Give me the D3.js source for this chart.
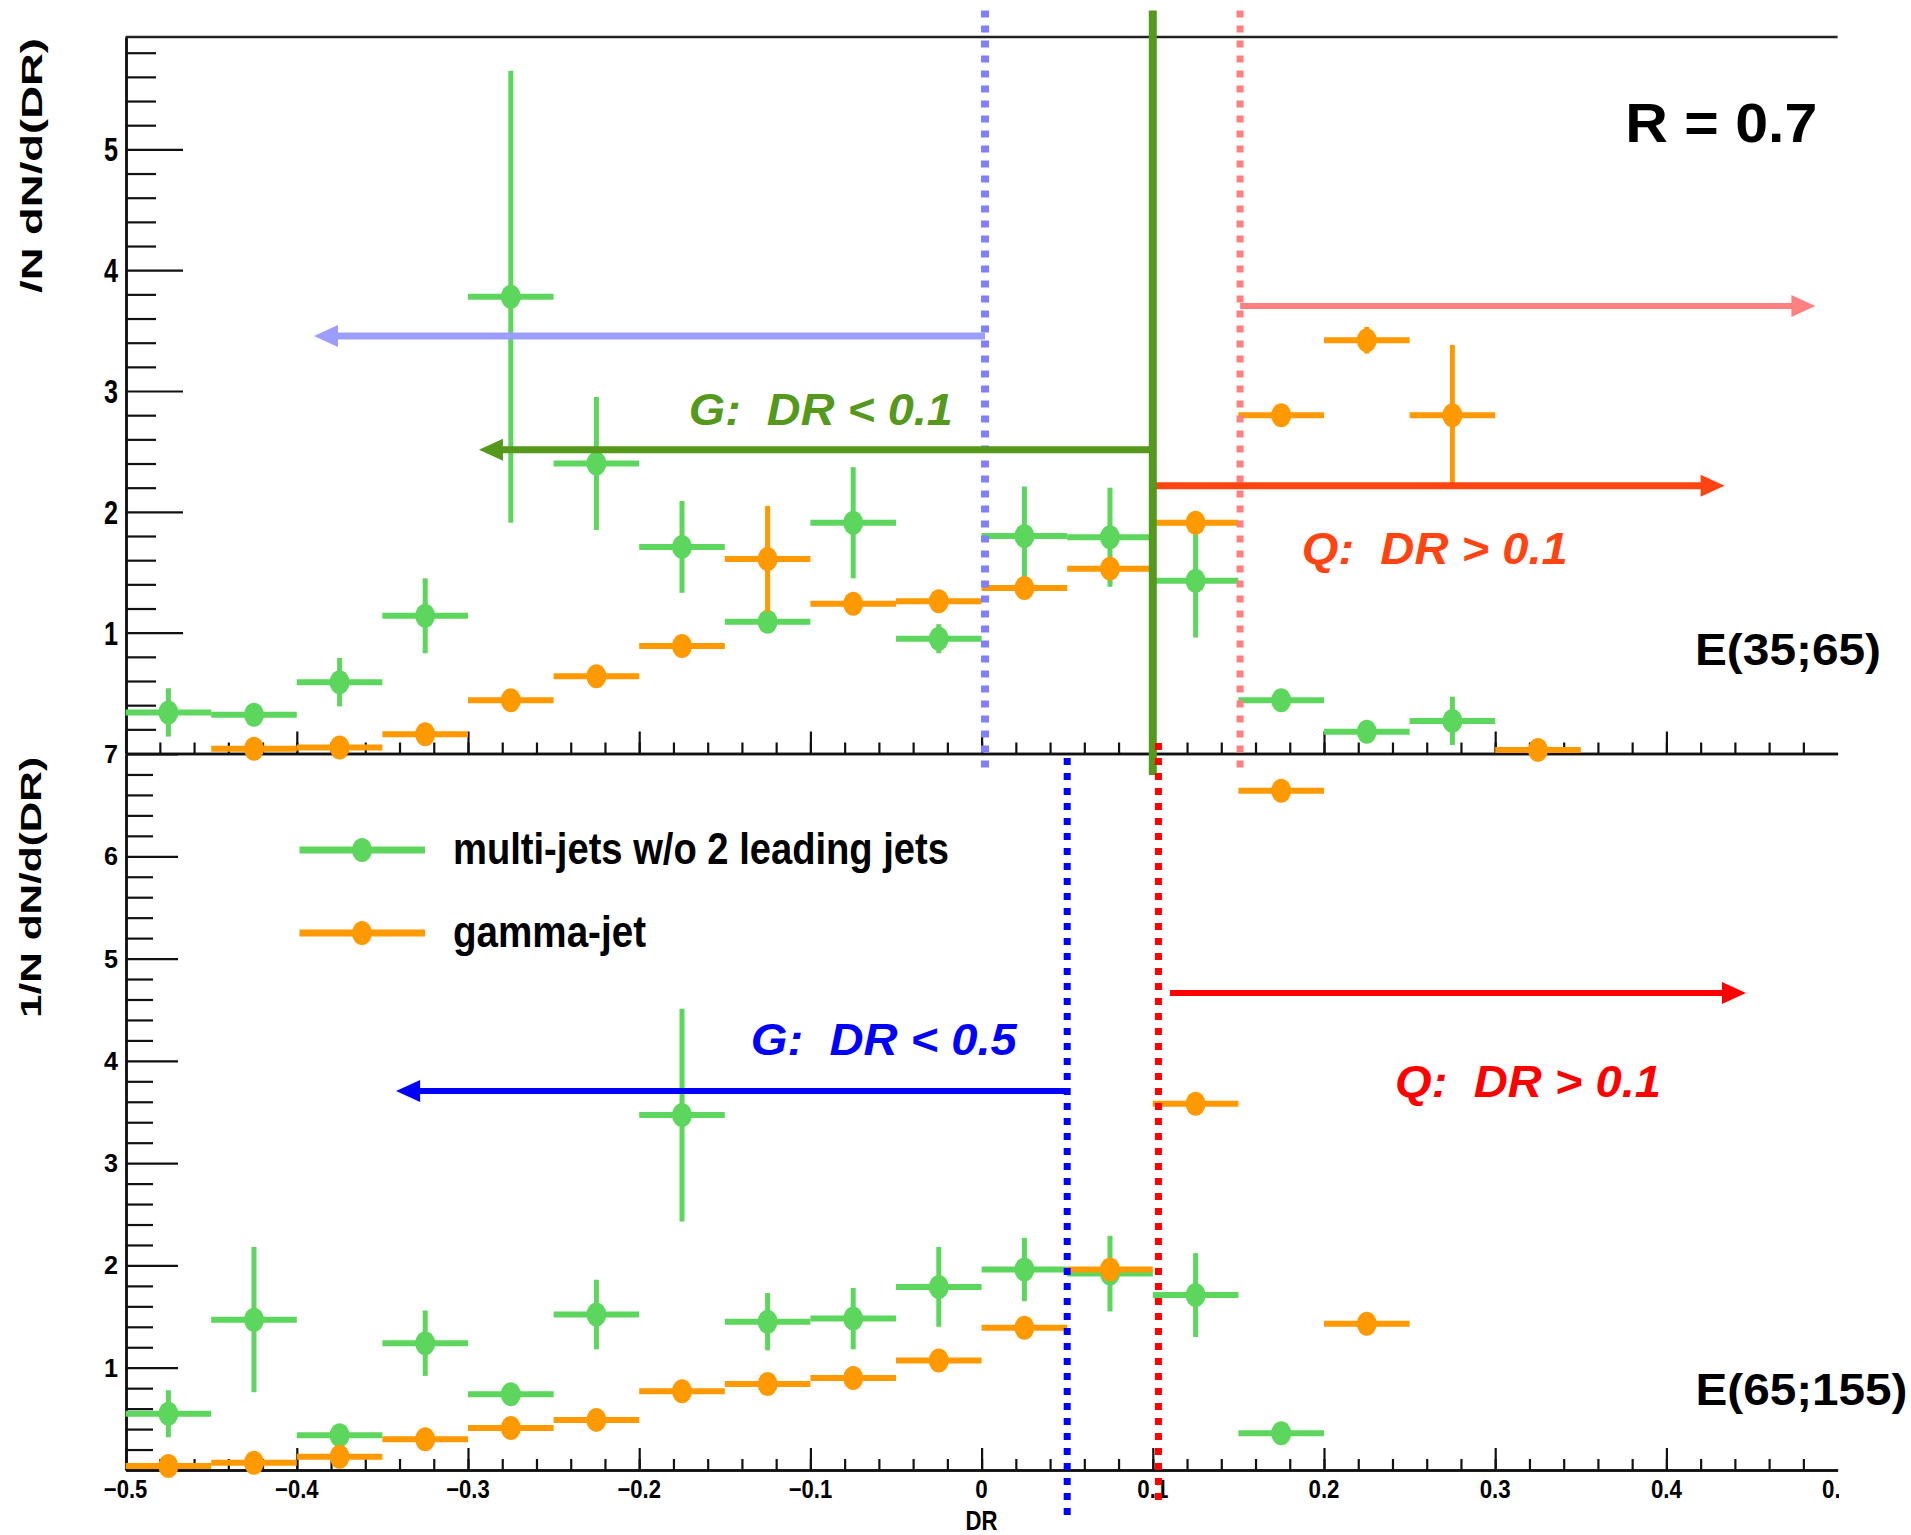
<!DOCTYPE html>
<html>
<head>
<meta charset="utf-8">
<script src="https://cdn.jsdelivr.net/npm/d3@7/dist/d3.min.js"></script>
<style>
  body { margin: 0; background: #fff; }
  text { font-family: "Liberation Sans", Arial, sans-serif; font-weight: bold; }
</style>
</head>
<body>
<svg id="chart"></svg>
<script>
// bin centres of the DR histograms (bin width 0.05)
var binCenters = [-0.475, -0.425, -0.375, -0.325, -0.275, -0.225, -0.175, -0.125, -0.075, -0.025,
                   0.025,  0.075,  0.125,  0.175,  0.225,  0.275,  0.325,  0.375,  0.425,  0.475];
var binWidth = 0.05;

// E(35;65) panel
var topMulti    = [0.34, 0.32, 0.59, 1.14, 3.78, 2.40, 1.71, 1.09, 1.91, 0.95, 1.80, 1.79, 1.43, 0.44, 0.18, 0.27, null, null, null, null];
var topMultiErr = [0.20, 0.06, 0.20, 0.31, 1.87, 0.55, 0.38, 0.08, 0.46, 0.12, 0.41, 0.41, 0.47, 0.06, 0.07, 0.20, null, null, null, null];
var topGamma    = [null, 0.04, 0.05, 0.16, 0.44, 0.64, 0.89, 1.61, 1.24, 1.26, 1.37, 1.53, 1.91, 2.80, 3.42, 2.80, 0.03, null, null, null];
var topGammaErr = [null, 0.02, 0.03, 0.04, 0.05, 0.05, 0.06, 0.44, 0.06, 0.07, 0.07, 0.08, 0.08, 0.09, 0.11, 0.58, 0.02, null, null, null];

// E(65;155) panel
var botMulti    = [0.55, 1.47, 0.34, 1.24, 0.74, 1.52, 3.47, 1.45, 1.48, 1.79, 1.96, 1.92, 1.71, 0.36, null, null, null, null, null, null];
var botMultiErr = [0.23, 0.71, 0.06, 0.32, 0.07, 0.34, 1.04, 0.28, 0.30, 0.39, 0.31, 0.37, 0.41, 0.05, null, null, null, null, null, null];
var botGamma    = [0.04, 0.07, 0.13, 0.30, 0.41, 0.49, 0.77, 0.84, 0.90, 1.07, 1.39, 1.96, 3.58, 6.64, 1.43, null, null, null, null, null];
var botGammaErr = [0.03, 0.04, 0.06, 0.05, 0.06, 0.06, 0.06, 0.06, 0.06, 0.06, 0.07, 0.10, 0.09, 0.10, 0.08, null, null, null, null, null];

// tick labels
var xTickValues = [-0.5, -0.4, -0.3, -0.2, -0.1, 0, 0.1, 0.2, 0.3, 0.4, 0.5];
var topYLabels = [1, 2, 3, 4, 5];
var botYLabels = [1, 2, 3, 4, 5, 6, 7];

var seriesNames = ["multi-jets w/o 2 leading jets", "gamma-jet"];

var greenCol = "#5cd65c";
var orangeCol = "#ff9900";

var svg = d3.select("#chart")
  .attr("width", 1911)
  .attr("height", 1535);

var x = d3.scaleLinear().domain([-0.5, 0.5]).range([125.6, 1837.6]);
var yTop = d3.scaleLinear().domain([0, 5.93]).range([753.5, 37]);
var yBot = d3.scaleLinear().domain([0, 7]).range([1470, 754]);

function range(a, b, step) {
  var out = [];
  for (var v = a; v <= b + 1e-9; v += step) out.push(Math.round(v * 1000) / 1000);
  return out;
}

// ---- axes ----
function yAxes(scale, maxV, majSize, minSize) {
  var minors = range(0.2, maxV, 0.2).filter(function(v) { return Math.abs(v - Math.round(v)) > 1e-6; });
  var majors = range(1, maxV, 1);
  svg.append("g")
    .attr("transform", "translate(126,0)")
    .call(d3.axisRight(scale).tickValues(minors).tickSize(minSize).tickSizeOuter(0).tickFormat(""));
  svg.append("g")
    .attr("transform", "translate(126,0)")
    .call(d3.axisRight(scale).tickValues(majors).tickSize(majSize).tickSizeOuter(0).tickFormat(""));
}
yAxes(yTop, 5.93, 57, 30);
yAxes(yBot, 7, 52, 27);

function xAxes(yPos) {
  var minors = range(-0.5, 0.49, 0.02);
  svg.append("g")
    .attr("transform", "translate(0," + yPos + ")")
    .call(d3.axisTop(x).tickValues(minors).tickSize(11).tickSizeOuter(0).tickFormat(""));
  svg.append("g")
    .attr("transform", "translate(0," + yPos + ")")
    .call(d3.axisTop(x).tickValues(xTickValues.slice(0, -1)).tickSize(22).tickSizeOuter(0).tickFormat(""));
}
xAxes(yTop(0));
xAxes(yBot(0));

svg.selectAll(".domain").attr("stroke", "#111").attr("stroke-width", 2.5);
svg.selectAll(".tick line").attr("stroke", "#111").attr("stroke-width", 2.2);

// frame line on top of the upper pad
svg.append("line")
  .attr("x1", x(-0.5)).attr("x2", x(0.5))
  .attr("y1", yTop(5.93)).attr("y2", yTop(5.93))
  .attr("stroke", "#222").attr("stroke-width", 2.5);

// ---- labels ----
function label(txt, px, py, size, len, anchor, fill, italic) {
  var t = svg.append("text")
    .attr("x", px).attr("y", py)
    .attr("font-size", size)
    .attr("text-anchor", anchor || "start")
    .attr("fill", fill || "#000")
    .style("white-space", "pre")
    .text(txt);
  if (len) t.attr("textLength", len).attr("lengthAdjust", "spacingAndGlyphs");
  if (italic) t.attr("font-style", "italic");
  return t;
}

topYLabels.forEach(function(v) {
  label(String(v), 118, yTop(v) + 12, 33, 14, "end");
});
botYLabels.forEach(function(v) {
  label(String(v), 118, yBot(v) + 9, 25, 14, "end");
});

svg.append("clipPath").attr("id", "clipx")
  .append("rect").attr("x", 0).attr("y", 0).attr("width", 1839).attr("height", 1535);

xTickValues.forEach(function(v) {
  var s = v === 0 ? "0" : d3.format(".1f")(v);
  var w = s.length * 12.5 - (s.indexOf(".") >= 0 ? 6.5 : 0) - (s[0] === "-" ? 4.5 : 0);
  label(s, x(v), 1498, 25, w, "middle").attr("clip-path", "url(#clipx)");
});
label("DR", x(0), 1530, 28, 32, "middle");

// y titles
svg.append("text")
  .attr("transform", "translate(41.5,293) rotate(-90)")
  .attr("font-size", 30)
  .attr("textLength", 255).attr("lengthAdjust", "spacingAndGlyphs")
  .text("/N dN/d(DR)");
svg.append("text")
  .attr("transform", "translate(41,1018) rotate(-90)")
  .attr("font-size", 30)
  .attr("textLength", 261).attr("lengthAdjust", "spacingAndGlyphs")
  .text("1/N dN/d(DR)");

// ---- histogram points ----
function drawSeries(scale, vals, errs, color) {
  var g = svg.append("g");
  binCenters.forEach(function(c, i) {
    var v = vals[i];
    if (v === null) return;
    var e = errs[i] || 0;
    g.append("line")
      .attr("x1", x(c - binWidth / 2)).attr("x2", x(c + binWidth / 2))
      .attr("y1", scale(v)).attr("y2", scale(v))
      .attr("stroke", color).attr("stroke-width", 6);
    g.append("line")
      .attr("x1", x(c)).attr("x2", x(c))
      .attr("y1", scale(Math.max(0, v - e))).attr("y2", scale(v + e))
      .attr("stroke", color).attr("stroke-width", 5);
    g.append("ellipse")
      .attr("cx", x(c)).attr("cy", scale(v))
      .attr("rx", 10).attr("ry", 12)
      .attr("fill", color);
  });
}
drawSeries(yTop, topMulti, topMultiErr, greenCol);
drawSeries(yTop, topGamma, topGammaErr, orangeCol);
drawSeries(yBot, botMulti, botMultiErr, greenCol);
drawSeries(yBot, botGamma, botGammaErr, orangeCol);

// ---- annotations ----
function vline(scale, xv, v1, v2, color, w, dash) {
  var l = svg.append("line")
    .attr("x1", x(xv)).attr("x2", x(xv))
    .attr("y1", scale(v1)).attr("y2", scale(v2))
    .attr("stroke", color).attr("stroke-width", w);
  if (dash) l.attr("stroke-dasharray", dash);
}
function arrow(scale, x1v, x2v, yv, color, w) {
  var px1 = x(x1v), px2 = x(x2v), py = scale(yv);
  var dir = px2 > px1 ? 1 : -1;
  svg.append("line")
    .attr("x1", px1).attr("x2", px2 - dir * 22)
    .attr("y1", py).attr("y2", py)
    .attr("stroke", color).attr("stroke-width", w);
  svg.append("path")
    .attr("d", "M" + px2 + "," + py +
      "L" + (px2 - dir * 24) + "," + (py - 11) +
      "L" + (px2 - dir * 24) + "," + (py + 11) + "Z")
    .attr("fill", color);
}

// upper pad
vline(yTop, 0.002, 6.15, -0.145, "#8080ff", 8, "7,8");
arrow(yTop, 0.002, -0.39, 3.456, "#9d9dff", 7);
vline(yTop, 0.151, 6.15, -0.145, "#ff8080", 7, "7,8");
arrow(yTop, 0.151, 0.487, 3.704, "#ff8080", 6);
arrow(yTop, 0.1, -0.2936, 2.513, "#55991c", 7);
arrow(yTop, 0.1, 0.434, 2.215, "#ff4411", 7);
vline(yTop, 0.1, 6.15, -0.178, "#55991c", 8, null);

label("G:  DR < 0.1", x(-0.171), yTop(2.72), 45, 264, "start", "#55991c", true);
label("Q:  DR > 0.1", x(0.187), yTop(1.569), 45, 266, "start", "#ff4411", true);
label("R = 0.7", x(0.376), yTop(5.065), 56, 192, "start");
label("E(35;65)", x(0.4167), yTop(0.733), 45, 186, "start");

// lower pad
vline(yBot, 0.05, 6.96, -0.489, "#0000ff", 7, "7,8");
arrow(yBot, 0.05, -0.342, 3.705, "#0000ff", 6);
vline(yBot, 0.1033, 7.107, -0.352, "#ff0000", 7, "7,8");
arrow(yBot, 0.110, 0.4465, 4.663, "#ff0000", 6);

label("G:  DR < 0.5", x(-0.1348), yBot(4.057), 45, 266, "start", "#0000ff", true);
label("Q:  DR > 0.1", x(0.2415), yBot(3.646), 45, 266, "start", "#ff0000", true);
label("E(65;155)", x(0.417), yBot(0.635), 45, 212, "start");

// legend
var legendRows = [{ name: seriesNames[0], color: greenCol, v: 6.061 },
                  { name: seriesNames[1], color: orangeCol, v: 5.25 }];
legendRows.forEach(function(r, i) {
  var py = yBot(r.v);
  svg.append("line")
    .attr("x1", 299.5).attr("x2", 425)
    .attr("y1", py).attr("y2", py)
    .attr("stroke", r.color).attr("stroke-width", 7);
  svg.append("ellipse")
    .attr("cx", 362).attr("cy", py)
    .attr("rx", 10).attr("ry", 12)
    .attr("fill", r.color);
  label(r.name, 453, py + 14, 44, i === 0 ? 496 : 193, "start");
});
</script>
</body>
</html>
